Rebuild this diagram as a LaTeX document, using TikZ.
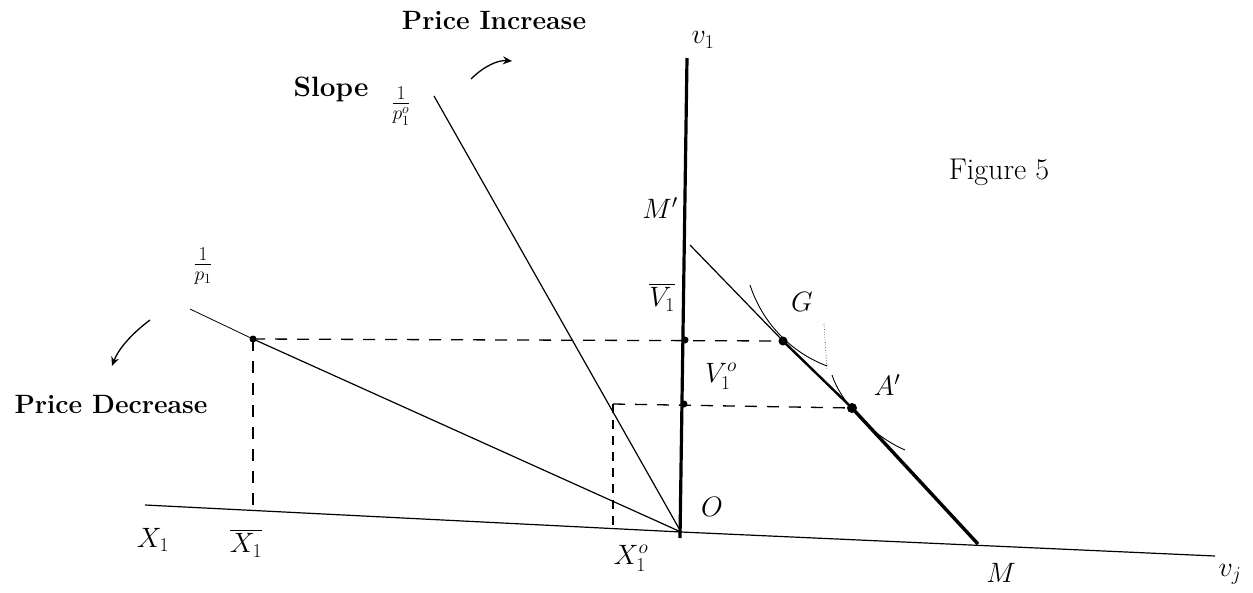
\RequirePackage{fix-cm}
\documentclass[tikz,border=0pt]{standalone}
\usepackage{amsmath}
\usetikzlibrary{arrows.meta}
\begin{document}
\begin{tikzpicture}[x=1pt,y=-1pt,
  lbl/.style={font=\fontsize{28}{32}\selectfont, inner sep=0pt},
  fig/.style={font=\fontsize{30}{34}\selectfont, inner sep=0pt},
  ttl/.style={font=\fontsize{26.5}{30}\selectfont\bfseries, inner sep=0pt},
  dashln/.style={line width=1.3pt, dash pattern=on 12pt off 10pt},
  thinln/.style={line width=1.2pt},
  dotpt/.style={circle, fill=black, inner sep=0pt, minimum size=7pt},
  arr/.style={line width=1.3pt, -{Stealth[length=9pt,width=8pt]}}]
\useasboundingbox (0,0) rectangle (1253,592);
% coordinates
\coordinate (O) at (681,532);
\coordinate (Vtop) at (687,58);
\coordinate (Vbot) at (680,538);
\coordinate (Xl) at (145,505);
\coordinate (Xr) at (1215,556);
\coordinate (Mp) at (690,245);
\coordinate (Mf) at (978,544);
\coordinate (Pst) at (190,309);
\coordinate (Sst) at (434,96);
\coordinate (Vb) at (685,340);
\coordinate (Vo) at (684,404);
\coordinate (Gc) at (783,341);
\coordinate (Ac) at (852,408);
\coordinate (Xb) at (253,339);
\coordinate (Xo) at (613,404);
\coordinate (Xbb) at (253,508);
\coordinate (Xob) at (613,527);
% axes
\draw[thinln] (Xl) -- (O) -- (Xr);
\draw[line width=3.2pt] (Vbot) -- (Vtop);
% budget line
\draw[thinln] (Mp) -- (Gc) -- (Ac);
\draw[line width=2.4pt] (Gc) -- (Ac);
\draw[line width=3.4pt] (Ac) -- (Mf);
% price lines
\draw[line width=0.8pt] (Pst) -- (Xb);
\draw[thinln] (Xb) -- (O);
\draw[thinln] (Sst) -- (O);
% dashed
\draw[dashln] (Xb) -- (Gc);
\draw[dashln] (Xo) -- (Ac);
\draw[dashln] (Xb) -- (Xbb);
\draw[dashln, dash pattern=on 9pt off 7pt] (Xo) -- (Xob);
% indifference curves
\draw[line width=0.9pt] (750,285) .. controls (762,322) and (790,352) .. (827,366);
\draw[line width=0.9pt] (832,375) .. controls (840,400) and (870,435) .. (905,450);
\draw[line width=0.6pt, dotted] (824,324) -- (827,370);
% dots
\node[dotpt] (d1) at (Xb) {};
\node[dotpt] (d2) at (Vb) {};
\node[dotpt] (d3) at (Vo) {};
\node[dotpt, minimum size=9pt] (d4) at (Gc) {};
\node[dotpt, minimum size=10pt] (d5) at (Ac) {};
% arrows
\coordinate (a1s) at (471,79);
\coordinate (a1e) at (512,61);
\draw[arr] (a1s) .. controls (484,66) and (498,60) .. (a1e);
\coordinate (a2s) at (150,320);
\coordinate (a2e) at (112,366);
\draw[arr] (a2s) .. controls (130,335) and (118,350) .. (a2e);
% labels
\node[ttl] (pinc) at (494,20) {Price Increase};
\node[ttl] (pdec) at (111,404) {Price Decrease};
\node[ttl, font=\fontsize{28}{32}\selectfont\bfseries] (slope) at (331,89) {Slope};
\node[lbl] (slfr) at (401,106) {$\frac{1}{p_1^o}$};
\node[lbl] (pfr) at (203,266) {$\frac{1}{p_1}$};
\node[fig] (figl) at (999,172) {Figure 5};
\node[lbl] (lv1) at (703,40) {$v_1$};
\node[lbl] (lMp) at (660,208) {$M'$};
\node[lbl] (lVb) at (662,297) {$\overline{V_1}$};
\node[lbl] (lVo) at (721,376) {$V_1^o$};
\node[lbl] (lG) at (802,302) {$G$};
\node[lbl] (lA) at (887,385) {$A'$};
\node[lbl] (lO) at (712,507) {$O$};
\node[lbl] (lX1) at (153,540) {$X_1$};
\node[lbl] (lXb) at (246,543) {$\overline{X_1}$};
\node[lbl] (lXo) at (631,558) {$X_1^o$};
\node[lbl] (lM) at (1001,573) {$M$};
\node[lbl] (lvj) at (1230,574) {$v_j$};
\end{tikzpicture}
\end{document}
